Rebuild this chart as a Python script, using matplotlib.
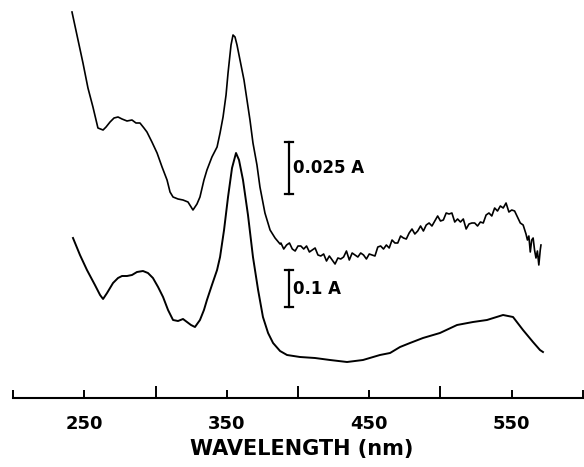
import numpy as np
import matplotlib
matplotlib.use('Agg')
import matplotlib.pyplot as plt

# upper trace (0.025 A scale): wavelength (nm), signal (arbitrary units above axis)
upper_nm = [241.4, 244.9, 249.1, 252.6, 256.1, 259.6, 263.2, 265.3, 268.1, 270.9, 273.7, 276.5,
            280.0, 283.5, 286.3, 289.1, 291.9, 294.0, 297.5, 301.1, 304.6, 308.1, 310.2, 312.3,
            315.8, 319.3, 322.8, 326.3, 329.1, 331.2, 334.0, 336.1, 339.6, 343.2, 345.3, 347.4,
            349.5, 350.9, 353.0, 354.4, 355.8, 357.2, 359.3, 362.1, 364.2, 366.3, 368.4, 371.2,
            373.3, 376.8, 380.4, 383.9, 387.4,
            388, 390, 392, 394, 396, 398, 400, 402, 404, 406, 408, 410, 412, 414, 416, 418,
            420, 422, 424, 426, 428, 430, 432, 434, 436, 438, 440, 442, 444, 446, 448, 450,
            452, 454, 456, 458, 460, 462, 464, 466, 468, 470, 472, 474, 476, 478, 480, 482,
            484, 486, 488, 490, 492, 494, 496, 498, 500, 502, 504, 506, 508, 510, 512, 514,
            516, 518, 520, 522, 524, 526, 528, 530, 532, 534, 536, 538, 540, 542, 544, 546,
            548, 550, 552, 554, 556, 558, 560, 561, 562, 563, 564, 565, 566, 567, 568, 569, 570, 570.5]
upper_sig = [386, 363, 335, 310, 291, 270, 268, 271, 276, 280, 281, 279,
             277, 278, 275, 275, 270, 266, 256, 245, 231, 218, 206, 201,
             199, 198, 196, 188, 194, 201, 218, 228, 241, 251, 265, 281,
             303, 325, 353, 363, 361, 353, 338, 318, 298, 278, 255, 233,
             211, 185, 168, 160, 154,
             155, 149, 153, 155, 149, 147, 152, 152, 149, 152, 146, 148, 150, 143, 142, 144,
             137, 142, 138, 134, 140, 139, 141, 147, 138, 145, 143, 141, 145, 143, 139, 144,
             143, 142, 151, 152, 149, 153, 150, 158, 155, 155, 162, 160, 159, 165, 169, 164,
             167, 172, 167, 173, 175, 172, 177, 182, 177, 178, 185, 184, 185, 176, 179, 176,
             179, 169, 174, 175, 175, 172, 176, 175, 183, 185, 182, 190, 187, 192, 190, 195,
             186, 188, 187, 181, 175, 173, 164, 158, 162, 146, 158, 160, 148, 140, 147, 133, 148, 153]

# lower trace (0.1 A scale)
lower_nm = [242.1, 247.0, 251.9, 257.5, 261.1, 263.2, 266.0, 270.2, 273.7, 276.5, 280.0, 283.5,
            287.0, 291.2, 294.7, 298.2, 301.8, 305.3, 308.8, 312.3, 315.8, 319.3, 322.1, 324.9,
            327.7, 331.2, 334.0, 336.1, 339.6, 343.2, 345.3, 348.1, 350.9, 353.7, 356.5, 358.6,
            361.4, 364.9, 368.4, 372.0, 375.4, 379.0, 382.5, 387.4, 392.3, 401.4, 411.9, 422.5,
            434.4, 445.6, 457.5, 464.6, 471.6, 478.6, 487.7, 499.6, 511.6, 522.8, 532.6, 543.9,
            550.9, 557.9, 564.9, 569.8, 571.9]
lower_sig = [160, 143, 128, 113, 103, 99, 105, 115, 120, 122, 122, 123,
             126, 127, 125, 120, 111, 101, 88, 78, 77, 79, 76, 73,
             71, 78, 88, 98, 113, 128, 141, 168, 201, 230, 245, 238,
             218, 183, 141, 108, 81, 65, 55, 47, 43, 41, 40, 38,
             36, 38, 43, 45, 51, 55, 60, 65, 73, 76, 78, 83,
             81, 68, 56, 48, 46]

major_ticks = [300, 400, 500]
minor_ticks = [200, 250, 350, 450, 550, 600]
tick_labels = ['', '250', '350', '450', '550', '']

fig = plt.figure(figsize=(5.84, 4.67), dpi=100)
ax = fig.add_axes([0, 0, 1, 1])
ax.set_facecolor('white')

ax.plot(upper_nm, upper_sig, color='black', linewidth=1.2)
ax.plot(lower_nm, lower_sig, color='black', linewidth=1.4)

# scale bars
bar_x = 393.7
for y0, y1, ty, txt in [(204, 256, 230, '0.025 A'), (91, 128, 109, '0.1 A')]:
    ax.plot([bar_x, bar_x], [y0, y1], color='black', linewidth=1.6)
    for yy in (y0, y1):
        ax.plot([bar_x - 2.8, bar_x + 2.8], [yy, yy], color='black', linewidth=1.6)
    ax.text(bar_x + 2.6, ty, txt, ha='left', va='center', fontsize=12,
            family='DejaVu Sans', weight='bold')

ax.set_xlim(200 - 13 / 1.425, 200 + 571 / 1.425)
ax.set_ylim(-69, 398)

for side in ('top', 'left', 'right'):
    ax.spines[side].set_visible(False)
ax.spines['bottom'].set_position(('data', 0))
ax.spines['bottom'].set_bounds(200, 600)
ax.spines['bottom'].set_linewidth(1.5)
ax.yaxis.set_visible(False)

ax.set_xticks(major_ticks)
ax.set_xticklabels([])
ax.set_xticks(minor_ticks, minor=True)
ax.set_xticklabels(tick_labels, minor=True)
ax.tick_params(axis='x', which='major', direction='in', length=8.6, width=1.4)
ax.tick_params(axis='x', which='minor', direction='in', length=5.8, width=1.4,
               pad=12, labelsize=13)
for lbl in ax.get_xticklabels(minor=True):
    lbl.set_family('DejaVu Sans')
    lbl.set_weight('bold')

ax.text(402.8, -51.5, 'WAVELENGTH (nm)', ha='center', va='center', fontsize=15,
        family='DejaVu Sans', weight='bold')

fig.savefig('out.png', dpi=100, facecolor='white')
plt.close(fig)
